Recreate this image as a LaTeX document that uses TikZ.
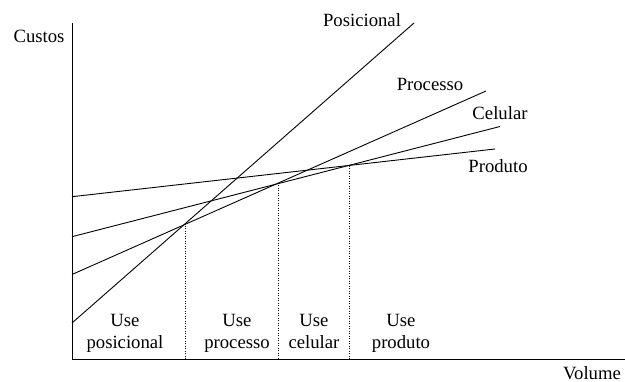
\documentclass[tikz,border=0pt]{standalone}
\usepackage{fontspec}
\setmainfont{Liberation Serif}
\begin{document}
\begin{tikzpicture}[x=1pt,y=-1pt,
  curve/.style={line width=0.9pt},
  axis/.style={line width=1pt},
  guide/.style={line width=0.8pt, dash pattern=on 1pt off 1.5pt},
  lbl/.style={inner sep=0pt, font=\fontsize{18.7}{22}\selectfont},
  zone/.style={inner sep=0pt, align=center, font=\fontsize{18.7}{22}\selectfont}]
\useasboundingbox (0,0) rectangle (625,382);
% axes
\coordinate (o) at (72,360);
\coordinate (ytop) at (72,23);
\coordinate (xend) at (625,360);
\draw[axis] (ytop) -- (o) -- (xend);
% cost lines
\coordinate (pos0) at (72,323); \coordinate (pos1) at (414,23);
\coordinate (pro0) at (72,274.5); \coordinate (pro1) at (486,91);
\coordinate (cel0) at (72,236.7); \coordinate (cel1) at (500,126.5);
\coordinate (prd0) at (72,196.7); \coordinate (prd1) at (495,149);
\draw[curve] (pos0) -- (pos1);
\draw[curve] (pro0) -- (pro1);
\draw[curve] (cel0) -- (cel1);
\draw[curve] (prd0) -- (prd1);
% break-even guides
\coordinate (g1t) at (185.5,223.5); \coordinate (g1b) at (185.5,360);
\coordinate (g2t) at (278,183); \coordinate (g2b) at (278,360);
\coordinate (g3t) at (349.5,166); \coordinate (g3b) at (349.5,360);
\draw[guide] (g1t) -- (g1b);
\draw[guide] (g2t) -- (g2b);
\draw[guide] (g3t) -- (g3b);
% labels
\node[lbl] (custos) at (39,36) {Custos};
\node[lbl] (volume) at (592,373.5) {Volume};
\node[lbl] (lpos) at (362,20) {Posicional};
\node[lbl] (lpro) at (430,84) {Processo};
\node[lbl] (lcel) at (500,113) {Celular};
\node[lbl] (lprd) at (498,166) {Produto};
\node[zone] (z1) at (125,333) {\strut Use\\\strut posicional};
\node[zone] (z2) at (237,333) {\strut Use\\\strut processo};
\node[zone] (z3) at (314,333) {\strut Use\\\strut celular};
\node[zone] (z4) at (401,333) {\strut Use\\\strut produto};
\end{tikzpicture}
\end{document}
